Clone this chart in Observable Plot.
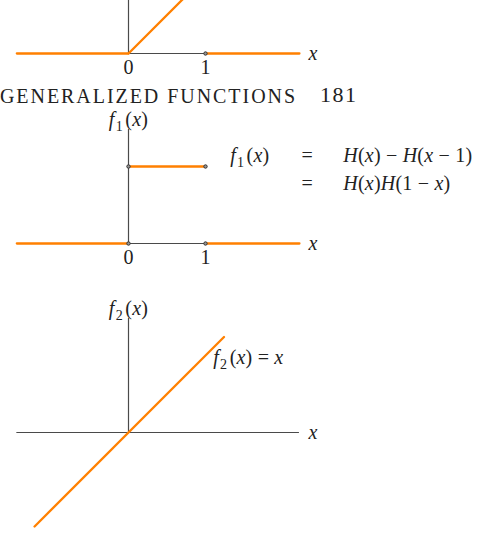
<!DOCTYPE html>
<html>
<head>
<meta charset="utf-8">
<script src="https://cdn.jsdelivr.net/npm/d3@7"></script>
<script src="https://cdn.jsdelivr.net/npm/@observablehq/plot@0.6"></script>
<style>
  html, body { margin: 0; padding: 0; background: #fff; }
  #page { position: relative; width: 492px; height: 533px; overflow: hidden; }
  #page > svg { position: absolute; left: 0; }
  .head { position: absolute; font-family: "Liberation Serif", serif; font-size: 20px;
          line-height: 20px; color: #222; white-space: nowrap; }
</style>
</head>
<body>
<div id="page"></div>
<script>
// Tick values and axis extents (in x units)
const xTicks = [0, 1];
const xAxisExtent = [-1.45, 2.22];
const yAxisTop = 1.48;

// Ramp: x on [0, 1], zero elsewhere
const rampPieces = [
  [{x: -1.45, y: 0}, {x: 0, y: 0}],
  [{x: 0, y: 0}, {x: 1, y: 1}],
  [{x: 1, y: 0}, {x: 2.22, y: 0}]
];
const rampPoints = [{x: 1, y: 0}];

// f1(x) = H(x) − H(x − 1)
const f1Pieces = [
  [{x: -1.45, y: 0}, {x: 0, y: 0}],
  [{x: 0, y: 1}, {x: 1, y: 1}],
  [{x: 1, y: 0}, {x: 2.22, y: 0}]
];
const f1Points = [{x: 0, y: 0}, {x: 0, y: 1}, {x: 1, y: 1}, {x: 1, y: 0}];
const f1EquationLhs = ["f_1(x)", ""];
const f1EquationRhs = ["H(x) − H(x − 1)", "H(x)H(1 − x)"];

// f2(x) = x
const f2Pieces = [
  [{x: -1.22, y: -1.22}, {x: 1.24, y: 1.24}]
];
const f2Label = ["f_2(x) = x"];

const pageHeader = "GENERALIZED FUNCTIONS";
const pageNumber = "181";

const ORANGE = "#ff8000";
const AXIS = "#4a4a4a";
const INK = "#222";
const SERIF = "Liberation Serif";
const FS = 20;
const U = 77;          // pixels per unit on both axes
const W = 492;
const X0 = 128;        // pixel column of x = 0

const flat = pieces => pieces.flatMap((p, i) => p.map(d => ({...d, piece: i})));

function axesMarks(label) {
  const m = [
    Plot.ruleY([0], {x1: xAxisExtent[0], x2: xAxisExtent[1], stroke: AXIS, strokeWidth: 1.2, clip: true}),
    Plot.ruleX([0], {y1: 0, y2: yAxisTop, stroke: AXIS, strokeWidth: 1.2, clip: true}),
    Plot.text(["x"], {x: xAxisExtent[1], y: 0, text: d => d, textAnchor: "start", dx: 9,
      fontFamily: SERIF, fontSize: FS, fill: INK})
  ];
  if (label) m.push(Plot.text([label], {x: 0, y: yAxisTop, text: d => d, dy: -10,
    fontFamily: SERIF, fontSize: FS, fill: INK}));
  return m;
}

function tickLabels() {
  return Plot.text(xTicks, {x: d => d, y: 0, text: d => String(d), dy: 14,
    fontFamily: SERIF, fontSize: FS, fill: INK});
}

function curve(pieces) {
  return Plot.line(flat(pieces), {x: "x", y: "y", z: "piece", stroke: ORANGE,
    strokeWidth: 2.3, clip: true});
}

function endpoints(points) {
  return Plot.dot(points, {x: "x", y: "y", r: 1.7, fill: "#999", stroke: "#333", strokeWidth: 1});
}

// Render letters in italics and "_n" as a lowered subscript
function mathify(svg) {
  const ns = "http://www.w3.org/2000/svg";
  svg.querySelectorAll("text").forEach(t => {
    const s = t.textContent;
    if (!/[A-Za-z_]/.test(s) || s === "") return;
    t.textContent = "";
    t.setAttribute("letter-spacing", "0.2");
    const re = /(_\d)|([A-Za-z]+)|([^A-Za-z_]+)/g;
    let m, shift = 0;
    while ((m = re.exec(s))) {
      const ts = document.createElementNS(ns, "tspan");
      if (m[1]) {
        ts.textContent = m[1].slice(1);
        ts.setAttribute("font-size", Math.round(FS * 0.72));
        ts.setAttribute("dy", 5);
        ts.setAttribute("dx", 1);
        shift = 5;
      } else {
        ts.textContent = m[0];
        if (m[2]) ts.setAttribute("font-style", "italic");
        if (shift) { ts.setAttribute("dy", -shift); ts.setAttribute("dx", 2.5); shift = 0; }
      }
      t.appendChild(ts);
    }
  });
}

function panel({top, height, axis, marks}) {
  const svg = Plot.plot({
    width: W, height,
    margin: 0,
    x: {domain: [-X0 / U, (W - X0) / U], axis: null},
    y: {domain: [-(height - axis) / U, axis / U], axis: null},
    style: {background: "transparent", overflow: "visible"},
    marks
  });
  mathify(svg);
  svg.style.top = top + "px";
  svg.style.maxWidth = "none";
  document.getElementById("page").appendChild(svg);
}

// Ramp (upper part lies above the page)
panel({top: 0, height: 82, axis: 53, marks: [
  ...axesMarks(null),
  curve(rampPieces),
  endpoints(rampPoints),
  tickLabels()
]});

// Boxcar f1
panel({top: 105, height: 160, axis: 138, marks: [
  ...axesMarks("f_1(x)"),
  curve(f1Pieces),
  endpoints(f1Points),
  tickLabels(),
  Plot.text(f1EquationLhs, {x: 1.32, y: (d, i) => 1.14 - i * 0.36, text: d => d, textAnchor: "start",
    fontFamily: SERIF, fontSize: FS, fill: INK}),
  Plot.text(f1EquationRhs, {x: 2.32, y: (d, i) => 1.14 - i * 0.36, text: () => "=",
    fontFamily: SERIF, fontSize: FS, fill: INK}),
  Plot.text(f1EquationRhs, {x: 2.79, y: (d, i) => 1.14 - i * 0.36, text: d => d, textAnchor: "start",
    fontFamily: SERIF, fontSize: FS, fill: INK})
]});

// Identity f2
panel({top: 290, height: 243, axis: 142, marks: [
  ...axesMarks("f_2(x)"),
  curve(f2Pieces),
  Plot.text(f2Label, {x: 1.1, y: 0.97, text: d => d, textAnchor: "start",
    fontFamily: SERIF, fontSize: FS, fill: INK})
]});

// Running page header
const page = document.getElementById("page");
const h = document.createElement("div");
h.className = "head";
h.textContent = pageHeader;
h.style.right = (W - 297) + "px";
h.style.top = "86px";
h.style.letterSpacing = "1.95px";
page.appendChild(h);
const n = document.createElement("div");
n.className = "head";
n.textContent = pageNumber;
n.style.left = "320px";
n.style.top = "85px";
n.style.fontSize = "22px";
n.style.letterSpacing = "1.5px";
page.appendChild(n);
</script>
</body>
</html>
